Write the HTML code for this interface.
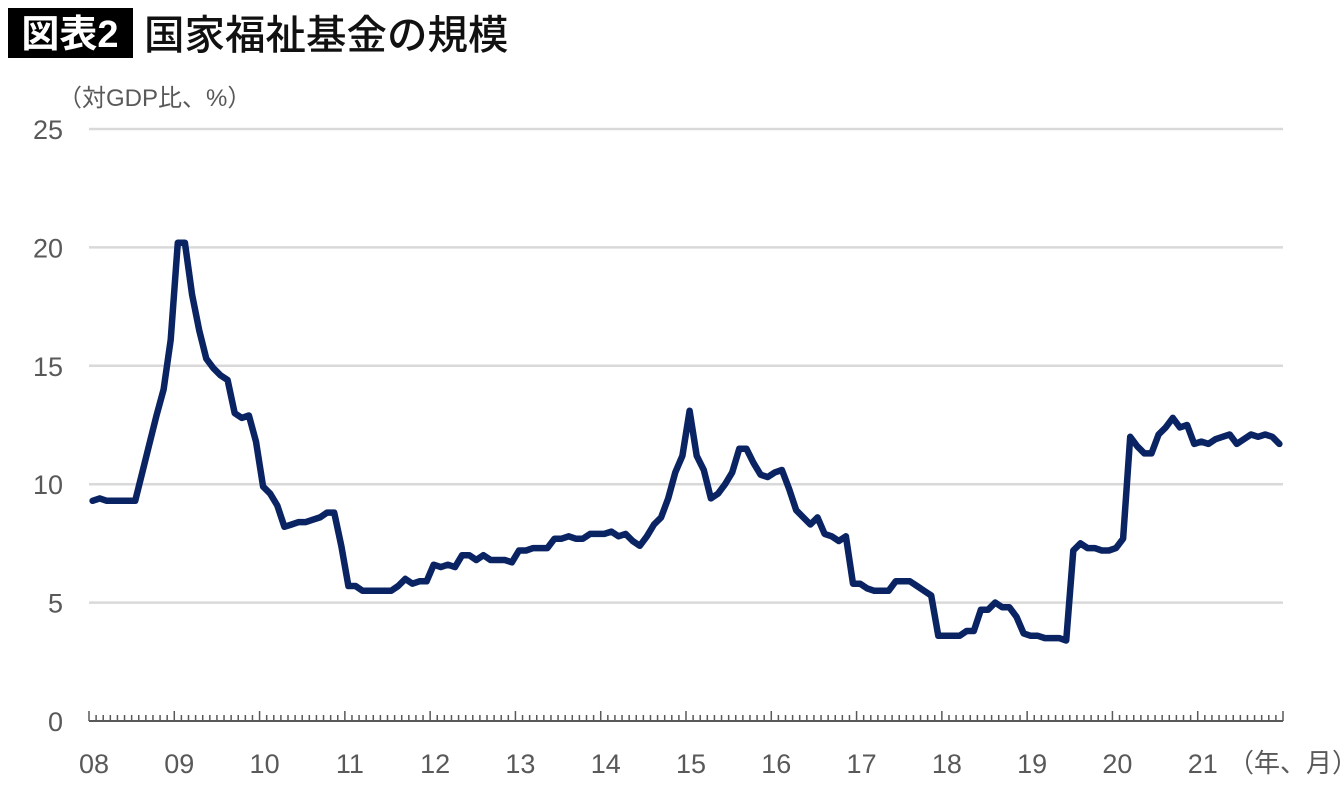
<!DOCTYPE html>
<html><head><meta charset="utf-8"><style>
body{margin:0;background:#fff;width:1340px;height:790px;overflow:hidden;font-family:"Liberation Sans","Noto Sans CJK JP",sans-serif;}
</style></head><body>
<svg width="1340" height="790" xmlns="http://www.w3.org/2000/svg">
<rect x="8" y="8" width="125" height="50" fill="#000"/>
<text x="70" y="47" fill="#fff" font-size="38" font-weight="bold" text-anchor="middle" font-family="Liberation Sans, Noto Sans CJK JP, sans-serif">図表2</text>
<text x="144" y="49" fill="#111" font-size="40.5" font-weight="500" font-family="Liberation Sans, Noto Sans CJK JP, sans-serif">国家福祉基金の規模</text>
<text x="58" y="106" fill="#595959" font-size="24" font-family="Liberation Sans, Noto Sans CJK JP, sans-serif">（対GDP比、%）</text>
<text x="1228" y="772" fill="#595959" font-size="26" font-family="Liberation Sans, Noto Sans CJK JP, sans-serif">（年、月）</text>
<g id="grid"></g><g id="yl"></g><g id="axis"></g><g id="xl"></g><g id="series"></g>
</svg>
<script>
const yTicks=[0,5,10,15,20,25];
const yearLabels=["08","09","10","11","12","13","14","15","16","17","18","19","20","21"];
const values=[9.3,9.4,9.3,9.3,9.3,9.3,9.3,10.5,11.7,12.9,14.0,16.1,20.2,20.2,18.0,16.5,15.3,14.9,14.6,14.4,13.0,12.8,12.9,11.8,9.9,9.6,9.1,8.2,8.3,8.4,8.4,8.5,8.6,8.8,8.8,7.4,5.7,5.7,5.5,5.5,5.5,5.5,5.5,5.7,6.0,5.8,5.9,5.9,6.6,6.5,6.6,6.5,7.0,7.0,6.8,7.0,6.8,6.8,6.8,6.7,7.2,7.2,7.3,7.3,7.3,7.7,7.7,7.8,7.7,7.7,7.9,7.9,7.9,8.0,7.8,7.9,7.6,7.4,7.8,8.3,8.6,
9.4,10.5,11.2,13.1,11.2,10.6,9.4,9.6,10.0,10.5,11.5,11.5,10.9,10.4,10.3,10.5,10.6,9.8,8.9,8.6,8.3,8.6,7.9,7.8,7.6,7.8,5.8,5.8,5.6,5.5,5.5,5.5,5.9,5.9,5.9,5.7,5.5,5.3,3.6,3.6,3.6,3.6,3.8,3.8,4.7,4.7,5.0,4.8,4.8,4.4,3.7,3.6,3.6,3.5,3.5,3.5,3.4,7.2,7.5,7.3,7.3,7.2,7.2,7.3,7.7,12.0,11.6,11.3,11.3,12.1,12.4,12.8,12.4,12.5,11.7,11.8,11.7,11.9,12.0,12.1,11.7,11.9,12.1,12.0,12.1,12.0,11.7];
const NS="http://www.w3.org/2000/svg";
const X0=89,X1=1283,Y0=721,Y1=129,N=values.length,step=(X1-X0)/N;
const yS=v=>Y0-(v/25)*(Y0-Y1);
const xS=i=>X0+(i+0.5)*step;
function mk(t,a,p){const e=document.createElementNS(NS,t);for(const k in a)e.setAttribute(k,a[k]);p.appendChild(e);return e;}
const grid=document.getElementById('grid'),yl=document.getElementById('yl'),ax=document.getElementById('axis'),xl=document.getElementById('xl'),se=document.getElementById('series');
yTicks.forEach(v=>{
 if(v>0){const l=mk('line',{x1:X0,x2:X1,y1:yS(v),y2:yS(v),stroke:'#d9d9d9','stroke-width':2.5},grid);
 
 }
 const t=mk('text',{x:63,y:yS(v)+10,'text-anchor':'end','font-size':27,fill:'#595959'},yl);t.textContent=v;
 
 
});
const axl=mk('line',{x1:X0,x2:X1,y1:Y0,y2:Y0,stroke:'#595959','stroke-width':2},ax);


for(let i=0;i<=N;i++){const x=X0+i*step;const h=(i%12===0)?10:6;
 const tk=mk('line',{x1:x,x2:x,y1:Y0,y2:Y0-h,stroke:'#595959','stroke-width':1.5},ax);
 
 }
yearLabels.forEach((s,k)=>{const t=mk('text',{x:X0+k*12*step+5,y:773,'text-anchor':'middle','font-size':27,fill:'#595959'},xl);t.textContent=s;
 
 });
const p=mk('polyline',{points:values.map((v,i)=>xS(i).toFixed(1)+','+yS(v).toFixed(1)).join(' '),fill:'none',stroke:'#0a2463','stroke-width':6.5,'stroke-linejoin':'round','stroke-linecap':'round'},se);


</script>
</body></html>
